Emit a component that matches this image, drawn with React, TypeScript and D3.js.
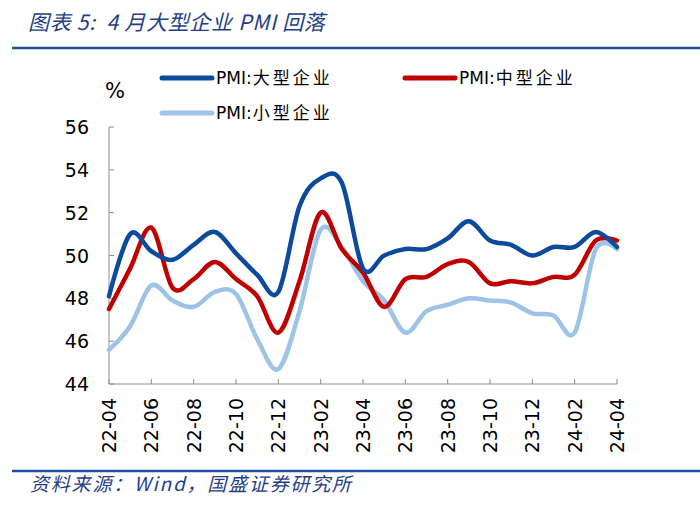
import React from "react";
import * as d3 from "d3";

const months = [
  "22-04","22-05","22-06","22-07","22-08","22-09","22-10","22-11","22-12",
  "23-01","23-02","23-03","23-04","23-05","23-06","23-07","23-08","23-09",
  "23-10","23-11","23-12","24-01","24-02","24-03","24-04",
];
const large = [48.1, 51.0, 50.2, 49.8, 50.5, 51.1, 50.1, 49.1, 48.3, 52.3, 53.6, 53.4, 49.4, 50.0, 50.3, 50.3, 50.8, 51.6, 50.7, 50.5, 50.0, 50.4, 50.4, 51.1, 50.4];
const medium = [47.5, 49.4, 51.3, 48.5, 48.9, 49.7, 48.9, 48.1, 46.4, 48.8, 52.0, 50.3, 49.2, 47.6, 48.9, 49.0, 49.6, 49.7, 48.7, 48.8, 48.7, 49.0, 49.1, 50.7, 50.7];
const small = [45.6, 46.7, 48.6, 47.9, 47.6, 48.3, 48.2, 46.1, 44.7, 47.4, 51.2, 50.4, 48.8, 47.9, 46.4, 47.4, 47.7, 48.0, 47.9, 47.8, 47.3, 47.2, 46.4, 50.3, 50.3];
const seriesPrefix = "PMI:";
const seriesNames = ["大型企业", "中型企业", "小型企业"];
const yTicks = [44, 46, 48, 50, 52, 54, 56];
const xTickLabels = ["22-04","22-06","22-08","22-10","22-12","23-02","23-04","23-06","23-08","23-10","23-12","24-02","24-04"];

const colors = ["#0c4a9c", "#c00000", "#9dc3e6"];

export default function App() {
  const x = d3.scalePoint<string>().domain(months).range([109, 617]);
  const y = d3.scaleLinear().domain([44, 56]).range([384, 127]);
  const line = d3
    .line<number>()
    .x((_, i) => x(months[i]) as number)
    .y((d) => y(d))
    .curve(d3.curveCardinal.tension(0));
  const data = [large, medium, small];
  const order = [2, 1, 0];
  const axisColor = "#8c8c8c";
  const textFont = "'DejaVu Sans', 'Noto Sans CJK SC', sans-serif";
  const legendItems = [
    { x: 162, y: 78, name: seriesNames[0], c: colors[0] },
    { x: 405, y: 78, name: seriesNames[1], c: colors[1] },
    { x: 162, y: 113, name: seriesNames[2], c: colors[2] },
  ];
  return (
    <svg
      width={700}
      height={510}
      style={{ position: "absolute", left: 0, top: 0, background: "#fff" }}
    >
      <rect x={0} y={0} width={700} height={510} fill="#fff" />
      <text
        x={28}
        y={30}
        fontFamily="'Noto Sans CJK SC', sans-serif"
        fontStyle="italic"
        fontSize={21}
        letterSpacing={0.7}
        fill="#1f3f86"
        style={{ whiteSpace: "pre" }}
      >
        图表 5:  4 月大型企业 PMI 回落
      </text>
      <line x1={12} x2={700} y1={48} y2={48} stroke="#1f4e9c" strokeWidth={2.5} />

      <text x={105} y={98} fontFamily={textFont} fontSize={21} fill="#000">%</text>
      {legendItems.map((l, i) => (
        <g key={i}>
          <line x1={l.x} x2={l.x + 50} y1={l.y} y2={l.y} stroke={l.c} strokeWidth={5} strokeLinecap="round" />
          <text
            x={l.x + 54}
            y={l.y + 6}
            fontFamily={textFont}
            fontSize={17}
            fill="#000"
          >
            <tspan>{seriesPrefix}</tspan>
            <tspan dx={1} letterSpacing={3}>{l.name}</tspan>
          </text>
        </g>
      ))}

      {/* y axis */}
      <line x1={109} x2={109} y1={y(56)} y2={y(44)} stroke={axisColor} strokeWidth={1} />
      {yTicks.map((t) => (
        <g key={t}>
          <line x1={109} x2={114} y1={y(t)} y2={y(t)} stroke={axisColor} />
          <text
            x={89}
            y={y(t) + 7}
            textAnchor="end"
            fontFamily={textFont}
            fontSize={19}
            fill="#000"
          >
            {t}
          </text>
        </g>
      ))}
      {/* x axis */}
      <line x1={109} x2={617} y1={384} y2={384} stroke={axisColor} />
      {xTickLabels.map((m) => (
        <g key={m}>
          <line x1={x(m)} x2={x(m)} y1={384} y2={379} stroke={axisColor} />
          <text
            transform={`translate(${(x(m) as number) + 7},${398}) rotate(-90)`}
            textAnchor="end"
            fontFamily={textFont}
            fontSize={19}
            fill="#000"
          >
            {m}
          </text>
        </g>
      ))}

      {order.map((k) => (
        <path
          key={k}
          d={line(data[k]) || ""}
          fill="none"
          stroke={colors[k]}
          strokeWidth={4.5}
          strokeLinejoin="round"
          strokeLinecap="round"
        />
      ))}

      <line x1={12} x2={700} y1={471} y2={471} stroke="#1f4e9c" strokeWidth={2.5} />
      <text
        x={30}
        y={491}
        fontFamily="'Noto Sans CJK SC', sans-serif"
        fontStyle="italic"
        fontSize={19}
        letterSpacing={1.8}
        fill="#1f3f86"
      >
        资料来源：Wind，国盛证券研究所
      </text>
    </svg>
  );
}
